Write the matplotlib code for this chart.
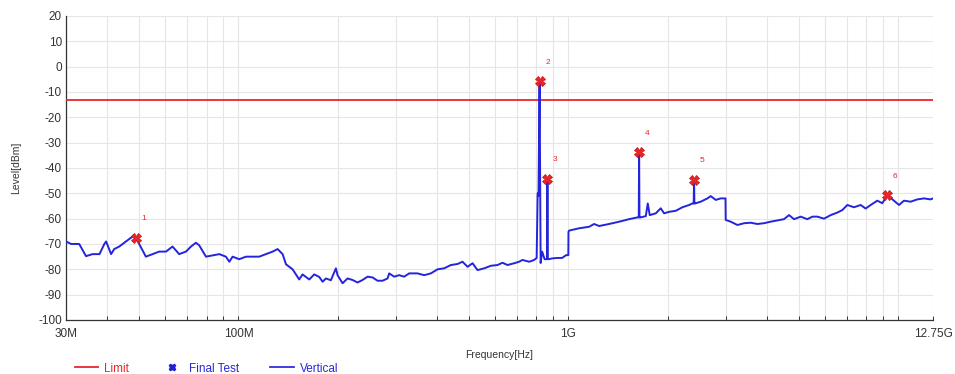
import matplotlib
matplotlib.use("Agg")
import matplotlib.pyplot as plt
from matplotlib.lines import Line2D
from matplotlib.ticker import FixedLocator, NullFormatter, FixedFormatter
import numpy as np

plt.rcParams['font.family'] = ['Liberation Sans', 'DejaVu Sans']
plt.rcParams['axes.unicode_minus'] = False

# Trace "Vertical": frequency in MHz, level in dBm
freq_mhz = [30.0, 31.1, 32.9, 34.5, 36.1, 37.9, 39.2, 39.7, 41.1, 42.0, 43.5, 45.6, 47.8, 48.9,
            50.0, 52.4, 54.9, 57.5, 60.3, 63.1, 66.1, 69.3, 71.8, 74.3, 76.0, 79.7, 83.5, 87.5,
            91.6, 93.8, 96.0, 100.5, 105.4, 110.4, 115.6, 121.1, 126.9, 131.4, 136.1, 139.3,
            145.9, 152.8, 156.4, 163.9, 169.7, 175.7, 179.9, 184.1, 190.6, 197.4, 199.7, 206.8,
            214.1, 221.7, 229.6, 237.8, 246.2, 255.0, 264.0, 273.4, 283.1, 286.4, 296.5, 307.0,
            317.9, 329.2, 349.0, 365.5, 383.0, 401.3, 420.4, 440.4, 461.4, 477.7, 494.8, 512.5,
            530.5, 555.8, 582.2, 609.9, 631.5, 654.0, 685.1, 709.1, 726.1, 760.6, 787.8, 801.6,
            807.2, 812.0, 818.0, 824.2, 832.9, 847.4, 856.5, 862.0, 864.2, 866.5, 871.9, 893.2,
            924.9, 957.6, 984.6, 1000.0, 1001.0, 1005.6, 1078, 1156, 1197, 1240, 1329, 1426,
            1528, 1620, 1635, 1639, 1643, 1658, 1717, 1741, 1765, 1841, 1906, 1951, 2020, 2117,
            2217, 2323, 2377, 2399, 2405, 2411, 2422, 2520, 2640, 2702, 2798, 2897, 2995, 3000,
            3107, 3255, 3409, 3571, 3740, 3917, 4103, 4298, 4505, 4667, 4833, 5063, 5303, 5493,
            5688, 5958, 6242, 6538, 6771, 7012, 7345, 7694, 7968, 8251, 8643, 8951, 9270, 9600,
            10056, 10411, 10907, 11425, 11969, 12539, 12750]
level_dbm = [-69.0, -70.0, -70.0, -74.8, -74.0, -74.0, -70.0, -69.0, -74.0, -72.0, -71.0, -69.0,
             -67.0, -67.5, -70.0, -75.0, -74.0, -73.0, -73.0, -71.0, -74.0, -73.0, -71.0, -69.5,
             -70.5, -75.0, -74.5, -74.0, -75.0, -77.0, -75.0, -76.0, -75.0, -75.0, -75.0, -74.0,
             -73.0, -72.0, -74.0, -78.0, -80.0, -84.0, -82.0, -84.0, -82.0, -83.0, -84.9, -83.6,
             -84.3, -79.6, -82.3, -85.5, -83.6, -84.2, -85.2, -84.2, -82.9, -83.2, -84.5, -84.5,
             -83.6, -81.6, -82.9, -82.3, -82.9, -81.6, -81.6, -82.3, -81.6, -80.0, -79.6, -78.3,
             -77.9, -77.0, -79.0, -77.6, -80.3, -79.6, -78.6, -78.3, -77.4, -78.3, -77.6, -77.0,
             -76.3, -77.0, -76.3, -75.5, -50.0, -51.0, -5.7, -77.5, -73.0, -76.0, -76.0, -76.0,
             -44.3, -76.0, -76.0, -75.7, -75.5, -75.5, -74.4, -74.4, -65.2, -64.7, -63.8, -63.2,
             -62.1, -62.9, -62.1, -61.2, -60.2, -59.5, -59.5, -33.7, -59.5, -59.5, -59.0, -54.0,
             -58.6, -57.9, -55.9, -57.9, -57.3, -56.9, -55.5, -54.6, -54.0, -54.0, -44.7, -54.0,
             -54.0, -53.3, -52.0, -51.1, -52.6, -52.0, -52.0, -60.5, -61.2, -62.5, -61.8, -61.6,
             -62.1, -61.8, -61.2, -60.7, -60.2, -58.6, -60.2, -59.2, -60.2, -59.2, -59.2, -60.0,
             -58.6, -57.6, -56.6, -54.6, -55.5, -54.6, -56.0, -54.6, -52.9, -53.9, -50.7, -52.4,
             -54.6, -52.9, -53.3, -52.4, -52.0, -52.4, -52.0]

# Final Test markers
peak_labels = ["1", "2", "3", "4", "5", "6"]
peak_freq_mhz = [48.9, 818.0, 864.2, 1639, 2405, 9270]
peak_level_dbm = [-67.5, -5.7, -44.3, -33.7, -44.7, -50.7]

limit_dbm = -13.0

x_tick_vals = [30, 100, 1000, 12750]
x_tick_labels = ["30M", "100M", "1G", "12.75G"]
x_minor_vals = [40, 50, 60, 70, 80, 90, 200, 300, 400, 500, 600, 700, 800, 900,
                2000, 3000, 4000, 5000, 6000, 7000, 8000, 9000, 10000]
y_ticks = list(range(-100, 21, 10))

fig = plt.figure(figsize=(9.55, 3.74), dpi=100)
ax = fig.add_axes([66 / 955, 1 - 320 / 374, (933 - 66) / 955, (320 - 16) / 374])

ax.set_xscale('log')
ax.set_xlim(30, 12750)
ax.set_ylim(-100, 20)

ax.xaxis.set_major_locator(FixedLocator(x_tick_vals))
ax.xaxis.set_major_formatter(FixedFormatter(x_tick_labels))
ax.xaxis.set_minor_locator(FixedLocator(x_minor_vals))
ax.xaxis.set_minor_formatter(NullFormatter())
ax.set_yticks(y_ticks)

ax.grid(True, which='both', axis='x', color='#e6e6e6', linewidth=0.8)
ax.grid(True, which='major', axis='y', color='#e6e6e6', linewidth=0.8)
ax.set_axisbelow(True)

for s in ['top', 'right']:
    ax.spines[s].set_visible(False)
for s in ['left', 'bottom']:
    ax.spines[s].set_color('#333333')
    ax.spines[s].set_linewidth(0.9)

ax.tick_params(axis='x', which='both', direction='in', length=3, width=0.7,
               labelsize=8.5, colors='#333333', pad=6)
ax.tick_params(axis='y', which='both', length=0, labelsize=8.5, colors='#333333', pad=3)

ax.axhline(limit_dbm, color='#e8262c', linewidth=1.3, zorder=3)
ax.plot(freq_mhz, level_dbm, color='#2424dc', linewidth=1.4, zorder=4)
ax.plot(peak_freq_mhz, peak_level_dbm, linestyle='none', marker='X', markersize=6.5,
        color='#e8262c', markeredgecolor='#d01818', markeredgewidth=0.6, zorder=5)
for lab, f, l in zip(peak_labels, peak_freq_mhz, peak_level_dbm):
    ax.annotate(lab, (f, l), xytext=(8, 19), textcoords='offset pixels',
                fontsize=6, color='#e8262c', ha='center', va='center')

ax.set_ylabel("Level[dBm]", fontsize=7.5, color='#333333', labelpad=12)
ax.set_xlabel("Frequency[Hz]", fontsize=7.5, color='#333333', labelpad=7)

handles = [Line2D([0], [0], color='#e8262c', linewidth=1.3),
           Line2D([0], [0], linestyle='none', marker='X', markersize=5, color='#2020d0'),
           Line2D([0], [0], color='#3030d8', linewidth=1.3)]
leg = fig.legend(handles, ["Limit", "Final Test", "Vertical"], loc='lower left',
                 bbox_to_anchor=(64 / 955, -0.03), ncol=3, frameon=False, fontsize=8.5,
                 handlelength=2.0, columnspacing=2.6, handletextpad=0.5)
for txt, c in zip(leg.get_texts(), ['#e8262c', '#2828d8', '#2828d8']):
    txt.set_color(c)

fig.savefig("out.png", dpi=100)
